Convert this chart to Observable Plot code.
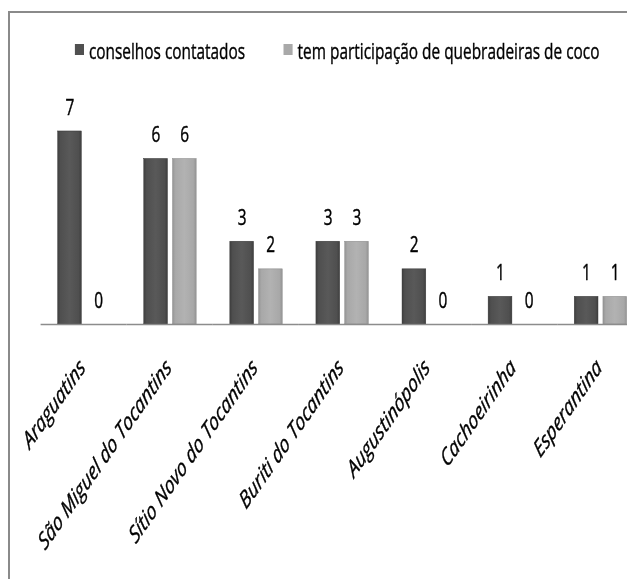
<!DOCTYPE html>
<html><head><meta charset="utf-8">
<script src="https://cdn.jsdelivr.net/npm/d3@7"></script>
<script src="https://cdn.jsdelivr.net/npm/@observablehq/plot@0.6"></script>
<style>
html,body{margin:0;padding:0;background:#fff;overflow:hidden}
#outer{position:relative;width:627px;height:579px;overflow:hidden;background:#fff}
#frame{position:absolute;left:8px;top:11px;width:700px;height:700px;border-top:2px solid #8a8a8a;border-left:2px solid #8a8a8a;pointer-events:none;z-index:2}
#inner{position:absolute;left:0;top:0;width:926px;height:579px;transform:scaleX(0.7);transform-origin:0 0;filter:grayscale(1)}
#chart{position:absolute;left:0;top:0}
#chart text{stroke:#000;stroke-width:0.45px;paint-order:stroke}
#legend{position:absolute;left:107px;top:33px;white-space:nowrap;-webkit-text-stroke:0.4px #000}
#legend [class$="-swatch"]{margin-right:55px !important}
#legend [class$="-swatch"] > svg{margin-right:7px !important}
</style>
</head><body>
<div id="outer"><div id="frame"></div><div id="inner"><div id="chart"></div><div id="legend"></div></div></div>
<script>
const categories = ["Araguatins","São Miguel do Tocantins","Sítio Novo do Tocantins","Buriti do Tocantins","Augustinópolis","Cachoeirinha","Esperantina"];
const series = ["conselhos contatados","tem participação de quebradeiras de coco"];
const conselhos = [7,6,3,3,2,1,1];
const participacao = [0,6,2,3,0,0,1];
const seriesColors = ["#505050","#a9a9a9"];

const data = [];
categories.forEach((c,i)=>{
  data.push({cat:c, series:series[0], value:conselhos[i]});
  data.push({cat:c, series:series[1], value:participacao[i]});
});

const chart = Plot.plot({
  width: 926, height: 579,
  marginLeft: 57.7, marginRight: 5.8, marginTop: 131, marginBottom: 255,
  style: {fontFamily: "Open Sans", fontSize: "22px", background: "transparent", overflow: "visible", maxWidth: "none"},
  fx: {domain: categories, padding: 0, label: null},
  x: {domain: series, paddingInner: 0.172, paddingOuter: 0.573, axis: null},
  y: {domain: [0, 7], axis: null},
  marks: [
    Plot.axisFx({anchor: "bottom", tickRotate: -45, tickSize: 0, tickPadding: 39, dx: -2, fontStyle: "italic", fontSize: 24, fill: "#000", label: null}),
    Plot.barY(data.filter(d => d.series === series[0]), {fx: "cat", x: "series", y: "value", fill: "url(#gDark)", stroke: "#3a3a3a", strokeWidth: 0.6}),
    Plot.barY(data.filter(d => d.series === series[1] && d.value > 0), {fx: "cat", x: "series", y: "value", fill: "url(#gLight)", stroke: "#8f8f8f", strokeWidth: 0.6}),
    Plot.ruleY([0], {stroke: "#8c8c8c", strokeWidth: 1.6}),
    Plot.text(data, {fx: "cat", x: "series", y: "value", text: d => String(d.value), dy: -24, fontSize: 22, fill: "#000"})
  ]
});

const ns = "http://www.w3.org/2000/svg";
const defs = document.createElementNS(ns, "defs");
function grad(id, stops){
  const g = document.createElementNS(ns, "linearGradient");
  g.setAttribute("id", id); g.setAttribute("x1","0"); g.setAttribute("x2","1"); g.setAttribute("y1","0"); g.setAttribute("y2","0");
  stops.forEach(([o,c])=>{const s=document.createElementNS(ns,"stop"); s.setAttribute("offset",o); s.setAttribute("stop-color",c); g.appendChild(s);});
  defs.appendChild(g);
}
grad("gDark", [["0","#3e3e3e"],["0.12","#4f4f4f"],["0.5","#595959"],["0.88","#4f4f4f"],["1","#3e3e3e"]]);
grad("gLight", [["0","#939393"],["0.12","#a8a8a8"],["0.5","#b2b2b2"],["0.88","#a8a8a8"],["1","#939393"]]);
chart.insertBefore(defs, chart.firstChild);
document.getElementById("chart").appendChild(chart);

const legend = Plot.legend({
  color: {domain: series, range: seriesColors},
  legend: "swatches", swatchWidth: 13, swatchHeight: 11,
  style: {fontFamily: "Open Sans", fontSize: "22px", color: "#000"}
});
document.getElementById("legend").appendChild(legend);
</script>
</body></html>
